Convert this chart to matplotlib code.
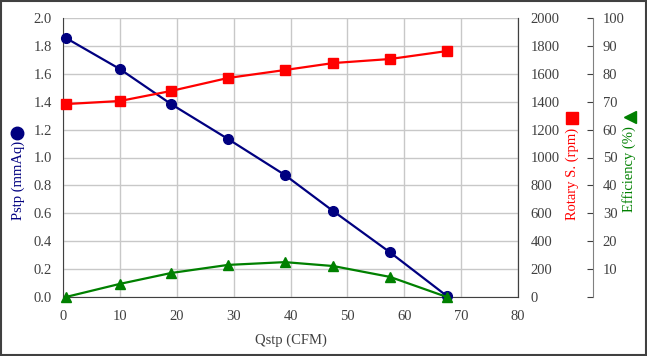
import matplotlib
matplotlib.use('Agg')
import matplotlib.pyplot as plt
from matplotlib.lines import Line2D
from matplotlib.patches import Rectangle

# data
qstp = [0.5, 10, 19, 29, 39, 47.5, 57.5, 67.5]
pstp = [1.857, 1.634, 1.383, 1.133, 0.875, 0.616, 0.32, 0.007]
rpm = [1383, 1405, 1477, 1570, 1627, 1677, 1706, 1763]
eff = [0.0, 4.7, 8.6, 11.5, 12.5, 11.1, 7.2, 0.0]

x_ticks = [0, 10, 20, 30, 40, 50, 60, 70, 80]
p_ticks = [0.0, 0.2, 0.4, 0.6, 0.8, 1.0, 1.2, 1.4, 1.6, 1.8, 2.0]
rpm_ticks = [0, 200, 400, 600, 800, 1000, 1200, 1400, 1600, 1800, 2000]
eff_ticks = [0, 10, 20, 30, 40, 50, 60, 70, 80, 90, 100]

navy = '#000080'
red = '#ff0000'
green = '#008000'
tick_col = '#404040'

plt.rcParams['font.family'] = ['Liberation Serif', 'DejaVu Serif']
plt.rcParams['font.size'] = 10

fig = plt.figure(figsize=(6.47, 3.56), dpi=100)
ax = fig.add_axes([63 / 647, 59 / 356, 455 / 647, 279 / 356])

# main axis: pressure
ax.plot(qstp, pstp, '-o', color=navy, lw=1.6, ms=7, clip_on=False, zorder=3)
ax.set_xlim(0, 80)
ax.set_ylim(0, 2.0)
ax.set_xticks(x_ticks)
ax.set_yticks(p_ticks)
ax.set_yticklabels(['%.1f' % v for v in p_ticks])
ax.grid(True, color='#c8c8c8', linewidth=1.0)
ax.set_axisbelow(True)
ax.tick_params(axis='x', length=0, colors=tick_col, labelsize=10.5, pad=9)
ax.tick_params(axis='y', length=0, colors=tick_col, labelsize=10.5, pad=8)
for s in ['left', 'bottom', 'right', 'top']:
    ax.spines[s].set_color('#404040')
ax.spines['top'].set_visible(False)
ax.set_xlabel('Qstp (CFM)', color=tick_col, fontsize=10.5, labelpad=8)

# second axis: rotary speed
ax2 = ax.twinx()
ax2.plot(qstp, rpm, '-s', color=red, lw=1.6, ms=7.5, clip_on=False, zorder=3)
ax2.set_ylim(0, 2000)
ax2.set_yticks(rpm_ticks)
ax2.tick_params(axis='y', length=0, colors=tick_col, labelsize=10.5, pad=9)
for s in ['left', 'top', 'bottom']:
    ax2.spines[s].set_visible(False)
ax2.spines['right'].set_color('#404040')

# third axis: efficiency
ax3 = ax.twinx()
ax3.spines['right'].set_position(('axes', 1.165))
ax3.plot(qstp, eff, '-^', color=green, lw=1.6, ms=7.5, clip_on=False, zorder=3)
ax3.set_ylim(0, 100)
ax3.set_yticks(eff_ticks)
ax3.set_yticklabels([''] + [str(v) for v in eff_ticks[1:]])
ax3.tick_params(axis='y', direction='in', length=4, colors=tick_col,
                labelsize=10.5, pad=7)
for s in ['left', 'top', 'bottom']:
    ax3.spines[s].set_visible(False)
ax3.spines['right'].set_color('#808080')

# rotated axis labels with marker symbols
fig.text(18 / 647, 1 - 180 / 356, 'Pstp (mmAq)', rotation=90, color=navy,
         fontsize=10.5, ha='center', va='center')
fig.add_artist(Line2D([17 / 647], [1 - 133 / 356], marker='o', ms=9,
                      color=navy, transform=fig.transFigure))
fig.text(572 / 647, 1 - 174 / 356, 'Rotary S. (rpm)', rotation=90, color=red,
         fontsize=10.5, ha='center', va='center')
fig.add_artist(Line2D([572 / 647], [1 - 118 / 356], marker='s', ms=8.5,
                      color=red, transform=fig.transFigure))
fig.text(629 / 647, 1 - 169 / 356, 'Efficiency (%)', rotation=90, color=green,
         fontsize=10.5, ha='center', va='center')
fig.add_artist(Line2D([630 / 647], [1 - 117 / 356], marker='<', ms=8.5,
                      color=green, transform=fig.transFigure))

# frame round the figure
fig.patches.append(Rectangle((0.001, 0.002), 0.997, 0.995, fill=False,
                             edgecolor='#404040', linewidth=1.5,
                             transform=fig.transFigure))

fig.savefig('out.png', dpi=100)
